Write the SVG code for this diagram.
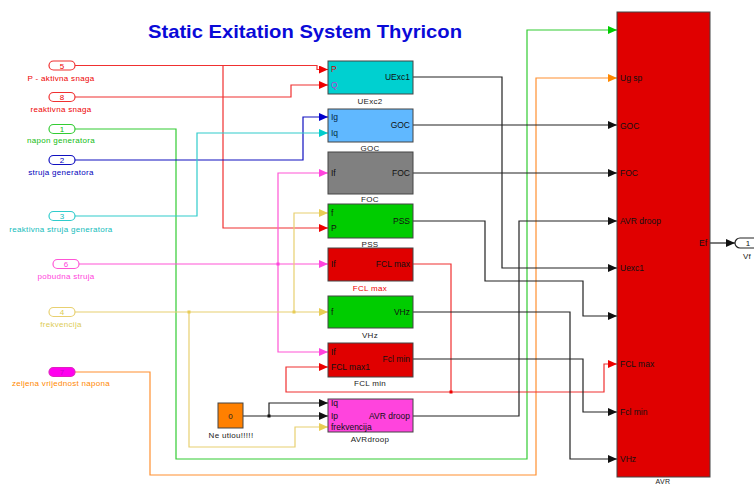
<svg xmlns="http://www.w3.org/2000/svg" width="754" height="484" viewBox="0 0 754 484">
<style>
text{font-family:"Liberation Sans",Arial,sans-serif;font-size:8px}
.pl{text-anchor:middle;letter-spacing:0.3px}
.bl{text-anchor:middle;fill:#222;letter-spacing:0.3px}
.in{fill:#111;font-size:8.5px}
.out{fill:#111;text-anchor:end;font-size:8.5px}
.blk{stroke:#444;stroke-width:1}
.port{stroke-width:1.2;fill:#fff}
.w{fill:none;stroke-width:1.2}
.k{stroke:#222}
.r{stroke:#f03030}
.g{stroke:#33cc33}
.b{stroke:#1010c0}
.c{stroke:#30cccc}
.m{stroke:#ff55d5}
.y{stroke:#e8d070}
.o{stroke:#ff9030}
</style>
<defs>
<marker id="ak" markerUnits="userSpaceOnUse" markerWidth="9" markerHeight="8" refX="9" refY="4" orient="auto"><path d="M0,0L9,4L0,8z" fill="#111"/></marker>
<marker id="ar" markerUnits="userSpaceOnUse" markerWidth="9" markerHeight="8" refX="9" refY="4" orient="auto"><path d="M0,0L9,4L0,8z" fill="#ee0000"/></marker>
<marker id="ag" markerUnits="userSpaceOnUse" markerWidth="9" markerHeight="8" refX="9" refY="4" orient="auto"><path d="M0,0L9,4L0,8z" fill="#00cc00"/></marker>
<marker id="ab" markerUnits="userSpaceOnUse" markerWidth="9" markerHeight="8" refX="9" refY="4" orient="auto"><path d="M0,0L9,4L0,8z" fill="#0000cc"/></marker>
<marker id="ac" markerUnits="userSpaceOnUse" markerWidth="9" markerHeight="8" refX="9" refY="4" orient="auto"><path d="M0,0L9,4L0,8z" fill="#00cccc"/></marker>
<marker id="am" markerUnits="userSpaceOnUse" markerWidth="9" markerHeight="8" refX="9" refY="4" orient="auto"><path d="M0,0L9,4L0,8z" fill="#ff44dd"/></marker>
<marker id="ay" markerUnits="userSpaceOnUse" markerWidth="9" markerHeight="8" refX="9" refY="4" orient="auto"><path d="M0,0L9,4L0,8z" fill="#e8cc55"/></marker>
<marker id="ao" markerUnits="userSpaceOnUse" markerWidth="9" markerHeight="8" refX="9" refY="4" orient="auto"><path d="M0,0L9,4L0,8z" fill="#ff8800"/></marker>
</defs>
<rect width="754" height="484" fill="#fff"/>
<text x="148" y="38" font-weight="bold" fill="#0a0ad8" textLength="314" lengthAdjust="spacingAndGlyphs" style="font-size:19px">Static Exitation System Thyricon</text>

<g id="connectors">
<path class="w r" d="M75,65.5H317V69.5H328" marker-end="url(#ar)"/>
<path class="w r" d="M223,65.5V228H328" marker-end="url(#ar)"/>
<path class="w r" d="M75,97H291V85H328" marker-end="url(#ar)"/>
<path class="w g" d="M75,129H176V459H527V30H617" marker-end="url(#ag)"/>
<path class="w b" d="M75,160H303V117H328" marker-end="url(#ab)"/>
<path class="w c" d="M75,216H197V133H328" marker-end="url(#ac)"/>
<path class="w m" d="M79,264H328" marker-end="url(#am)"/>
<path class="w m" d="M278,264V173H328" marker-end="url(#am)"/>
<path class="w m" d="M278,264V352H328" marker-end="url(#am)"/>
<path class="w y" d="M75,312H328" marker-end="url(#ay)"/>
<path class="w y" d="M294,312V213H328" marker-end="url(#ay)"/>
<path class="w y" d="M189,312V447H295V427H328" marker-end="url(#ay)"/>
<path class="w o" d="M75,372H150V475H536V78H617" marker-end="url(#ao)"/>
<path class="w k" d="M243,416H328" marker-end="url(#ak)"/>
<path class="w k" d="M269,416V403H328" marker-end="url(#ak)"/>
<path class="w k" d="M413,77H502V268H617" marker-end="url(#ak)"/>
<path class="w k" d="M413,125H617" marker-end="url(#ak)"/>
<path class="w k" d="M413,173H617" marker-end="url(#ak)"/>
<path class="w k" d="M413,221H485V281H583V316H617" marker-end="url(#ak)"/>
<path class="w r" d="M413,264H451V392H604V364H617" marker-end="url(#ar)"/>
<path class="w r" d="M451,392H286V367H328" marker-end="url(#ar)"/>
<path class="w k" d="M413,312H570V459H617" marker-end="url(#ak)"/>
<path class="w k" d="M413,359H583V412H617" marker-end="url(#ak)"/>
<path class="w k" d="M413,416H519V221H617" marker-end="url(#ak)"/>
<path class="w k" d="M710,243H735" marker-end="url(#ak)"/>
<rect x="276.5" y="262.5" width="3" height="3" fill="#ff44dd"/>
<rect x="292.5" y="310.5" width="3" height="3" fill="#e8cc55"/>
<rect x="187.5" y="310.5" width="3" height="3" fill="#e8cc55"/>
<rect x="267.5" y="414.5" width="3" height="3" fill="#111"/>
<rect x="449.5" y="390.5" width="3" height="3" fill="#ee0000"/>
</g>

<g id="in5"><rect class="port" x="49" y="61" width="26" height="9" rx="4.5" stroke="#f03030"/><text x="62" y="68.5" text-anchor="middle" fill="#e00">5</text><text class="pl" x="61" y="81" fill="#e00">P - aktivna snaga</text></g>
<g id="in8"><rect class="port" x="49" y="92.5" width="26" height="9" rx="4.5" stroke="#f03030"/><text x="62" y="100" text-anchor="middle" fill="#e00">8</text><text class="pl" x="61" y="112" fill="#e00">reaktivna snaga</text></g>
<g id="in1"><rect class="port" x="49" y="124.5" width="26" height="9" rx="4.5" stroke="#33cc33"/><text x="62" y="132" text-anchor="middle" fill="#1b1">1</text><text class="pl" x="61" y="143" fill="#1b1">napon generatora</text></g>
<g id="in2"><rect class="port" x="49" y="155.5" width="26" height="9" rx="4.5" stroke="#1010c0"/><text x="62" y="163" text-anchor="middle" fill="#00b">2</text><text class="pl" x="61" y="175" fill="#00b">struja generatora</text></g>
<g id="in3"><rect class="port" x="49" y="211.5" width="26" height="9" rx="4.5" stroke="#30cccc"/><text x="62" y="219" text-anchor="middle" fill="#1bb">3</text><text class="pl" x="61" y="232" fill="#1bb">reaktivna struja generatora</text></g>
<g id="in6"><rect class="port" x="53" y="259.5" width="26" height="9" rx="4.5" stroke="#ff55d5"/><text x="66" y="267" text-anchor="middle" fill="#f4d">6</text><text class="pl" x="66" y="279" fill="#f4d">pobudna struja</text></g>
<g id="in4"><rect class="port" x="49" y="307.5" width="26" height="9" rx="4.5" stroke="#e8d070"/><text x="62" y="315" text-anchor="middle" fill="#dc5">4</text><text class="pl" x="61" y="327" fill="#dc5">frekvencija</text></g>
<g id="in7"><rect class="port" x="49" y="367.5" width="26" height="9" rx="4.5" stroke="#e020c0" style="fill:#ff00ee"/><text x="62" y="375" text-anchor="middle" fill="#c0c">7</text><text class="pl" x="61" y="386" fill="#f80">zeljena vrijednost napona</text></g>

<g id="UExc2"><rect class="blk" x="328" y="61" width="85" height="33" fill="#00d0d0"/><text class="in" x="331" y="72" style="fill:#c00">P</text><text class="in" x="331" y="87.5" style="fill:#b4c">Q</text><text class="out" x="410" y="80">UExc1</text><text class="bl" x="370" y="104">UExc2</text></g>
<g id="GOC"><rect class="blk" x="328" y="109" width="85" height="33" fill="#60b8ff"/><text class="in" x="331" y="120" style="fill:#024">Ig</text><text class="in" x="331" y="136" style="fill:#034">Iq</text><text class="out" x="410" y="128">GOC</text><text class="bl" x="370" y="151">GOC</text></g>
<g id="FOC"><rect class="blk" x="328" y="152" width="85" height="42" fill="#808080"/><text class="in" x="331" y="176">If</text><text class="out" x="410" y="176">FOC</text><text class="bl" x="370" y="202">FOC</text></g>
<g id="PSS"><rect class="blk" x="328" y="204" width="85" height="34" fill="#00cc00"/><text class="in" x="331" y="216">f</text><text class="in" x="331" y="231">P</text><text class="out" x="410" y="224">PSS</text><text class="bl" x="370" y="247">PSS</text></g>
<g id="FCLmax"><rect class="blk" x="328" y="248" width="85" height="33" fill="#e00000"/><text class="in" x="331" y="267">If</text><text class="out" x="410" y="267">FCL max</text><text class="bl" x="370" y="291" style="fill:#e00">FCL max</text></g>
<g id="VHz"><rect class="blk" x="328" y="296" width="85" height="32" fill="#00cc00"/><text class="in" x="331" y="315">f</text><text class="out" x="410" y="315">VHz</text><text class="bl" x="370" y="338">VHz</text></g>
<g id="FCLmin"><rect class="blk" x="328" y="343" width="85" height="34" fill="#e00000"/><text class="in" x="331" y="355">If</text><text class="in" x="331" y="370">FCL max1</text><text class="out" x="410" y="362">Fcl min</text><text class="bl" x="370" y="386">FCL min</text></g>
<g id="AVRdroop"><rect class="blk" x="328" y="399" width="85" height="33" fill="#ff44dd"/><text class="in" x="331" y="406">Iq</text><text class="in" x="331" y="419">Ip</text><text class="in" x="331" y="430">frekvencija</text><text class="out" x="410" y="419">AVR droop</text><text class="bl" x="370" y="442">AVRdroop</text></g>
<g id="Const"><rect class="blk" x="218" y="403" width="25" height="25" fill="#ff8000"/><text x="230.5" y="419" text-anchor="middle" fill="#222">0</text><text class="bl" x="231" y="438">Ne utiou!!!!!</text></g>

<g id="AVR"><rect class="blk" x="617" y="12" width="93" height="465" fill="#e00000"/>
<text class="in" x="620" y="81">Ug sp</text>
<text class="in" x="620" y="128.5">GOC</text>
<text class="in" x="620" y="176">FOC</text>
<text class="in" x="620" y="223.5">AVR droop</text>
<text class="in" x="620" y="271">Uexc1</text>
<text class="in" x="620" y="367">FCL max</text>
<text class="in" x="620" y="415">Fcl min</text>
<text class="in" x="620" y="462">VHz</text>
<text class="out" x="707" y="246">Ef</text>
<text class="bl" x="663" y="484" style="font-size:7px">AVR</text></g>

<g id="out1"><rect class="port" x="735" y="238" width="30" height="10" rx="5" stroke="#222"/><text x="748" y="246" text-anchor="middle" fill="#111">1</text><text class="bl" x="747" y="259">Vf</text></g>
</svg>
